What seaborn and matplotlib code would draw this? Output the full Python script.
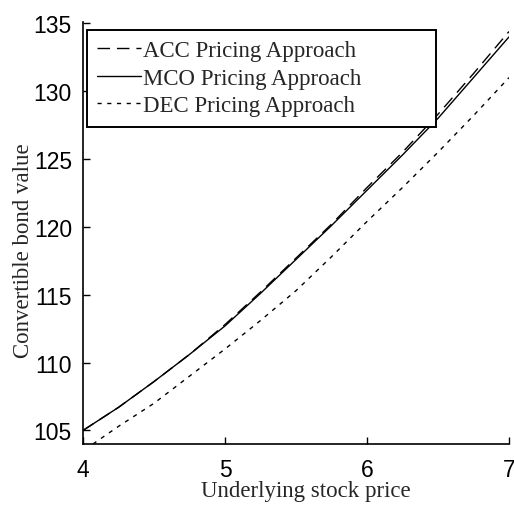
import matplotlib
matplotlib.use("Agg")
import matplotlib.pyplot as plt
import seaborn as sns
import pandas as pd

x_mco = [4.0, 4.25, 4.5, 4.75, 5.0, 5.25, 5.5, 5.75, 6.0, 6.25, 6.5, 6.75, 7.0]
y_mco = [105.0, 106.7, 108.6, 110.6, 112.7, 115.1, 117.6, 120.1, 122.7, 125.3, 128.0, 131.0, 134.0]
x_acc = [4.0, 4.25, 4.5, 4.75, 5.0, 5.25, 5.5, 5.75, 6.0, 6.25, 6.5, 6.75, 7.0]
y_acc = [105.0, 106.7, 108.6, 110.6, 112.8, 115.2, 117.7, 120.2, 122.9, 125.5, 128.3, 131.3, 134.4]
x_dec = [4.07, 4.25, 4.5, 4.75, 5.0, 5.25, 5.5, 5.75, 6.0, 6.25, 6.5, 6.75, 7.0]
y_dec = [104.0, 105.3, 107.0, 109.0, 111.0, 113.1, 115.3, 117.8, 120.4, 122.9, 125.5, 128.2, 131.0]
labels = ["ACC Pricing Approach", "MCO Pricing Approach", "DEC Pricing Approach"]

sns.set_theme(style="white")
plt.rcParams["font.family"] = ["Liberation Sans", "DejaVu Sans"]

fig = plt.figure(figsize=(5.14, 5.06), dpi=100)
ax = fig.add_axes([83/514, 1-445/506, (509-83)/514, (445-23)/506])

df_acc = pd.DataFrame({"x": x_acc, "y": y_acc})
df_mco = pd.DataFrame({"x": x_mco, "y": y_mco})
df_dec = pd.DataFrame({"x": x_dec, "y": y_dec})

sns.lineplot(data=df_acc, x="x", y="y", ax=ax, color="black", lw=1.0,
             label=labels[0], linestyle=(0, (9, 5)))
sns.lineplot(data=df_mco, x="x", y="y", ax=ax, color="black", lw=1.0,
             label=labels[1])
sns.lineplot(data=df_dec, x="x", y="y", ax=ax, color="black", lw=1.0,
             label=labels[2], linestyle=(0, (3, 4)))

ax.set_xlim(4, 7)
ax.set_ylim(104.0, 135.1)
ax.set_xticks([4, 5, 6, 7])
ax.set_yticks([105, 110, 115, 120, 125, 130, 135])
ax.tick_params(direction="in", length=5, width=1, labelsize=16.5, colors="black",
               left=True, bottom=True)
ax.tick_params(axis="y", pad=8)
ax.tick_params(axis="x", pad=10)
for s in ["top", "right"]:
    ax.spines[s].set_visible(False)
for s in ["left", "bottom"]:
    ax.spines[s].set_color("black")
    ax.spines[s].set_linewidth(1.2)

serif = ["Liberation Serif", "DejaVu Serif"]
ax.set_xlabel("Underlying stock price", fontsize=16.5, family=serif)
ax.set_ylabel("Convertible bond value", fontsize=16.5, family=serif)
ax.xaxis.set_label_coords(0.523, -0.11)
ax.yaxis.set_label_coords(-0.1385, 0.46)
ax.xaxis.label.set_verticalalignment("center")
ax.yaxis.label.set_verticalalignment("center")

# legend box spans x 87..436 px, y 31..123 px
bx0 = (87 - 83) / 426
bw = (436 - 87) / 426
by1 = (445 - 31) / 422
bh = (123 - 31) / 422
leg = ax.legend(loc="upper left", bbox_to_anchor=(bx0, by1 - bh, bw, bh),
                mode="expand", frameon=True,
                fancybox=False, edgecolor="black", framealpha=1,
                prop={"family": serif, "size": 16.5}, handlelength=1.9,
                handletextpad=0.1, borderpad=0.45, labelspacing=0.28,
                borderaxespad=0)
leg.get_frame().set_linewidth(1.4)

fig.savefig("out.png", dpi=100)
